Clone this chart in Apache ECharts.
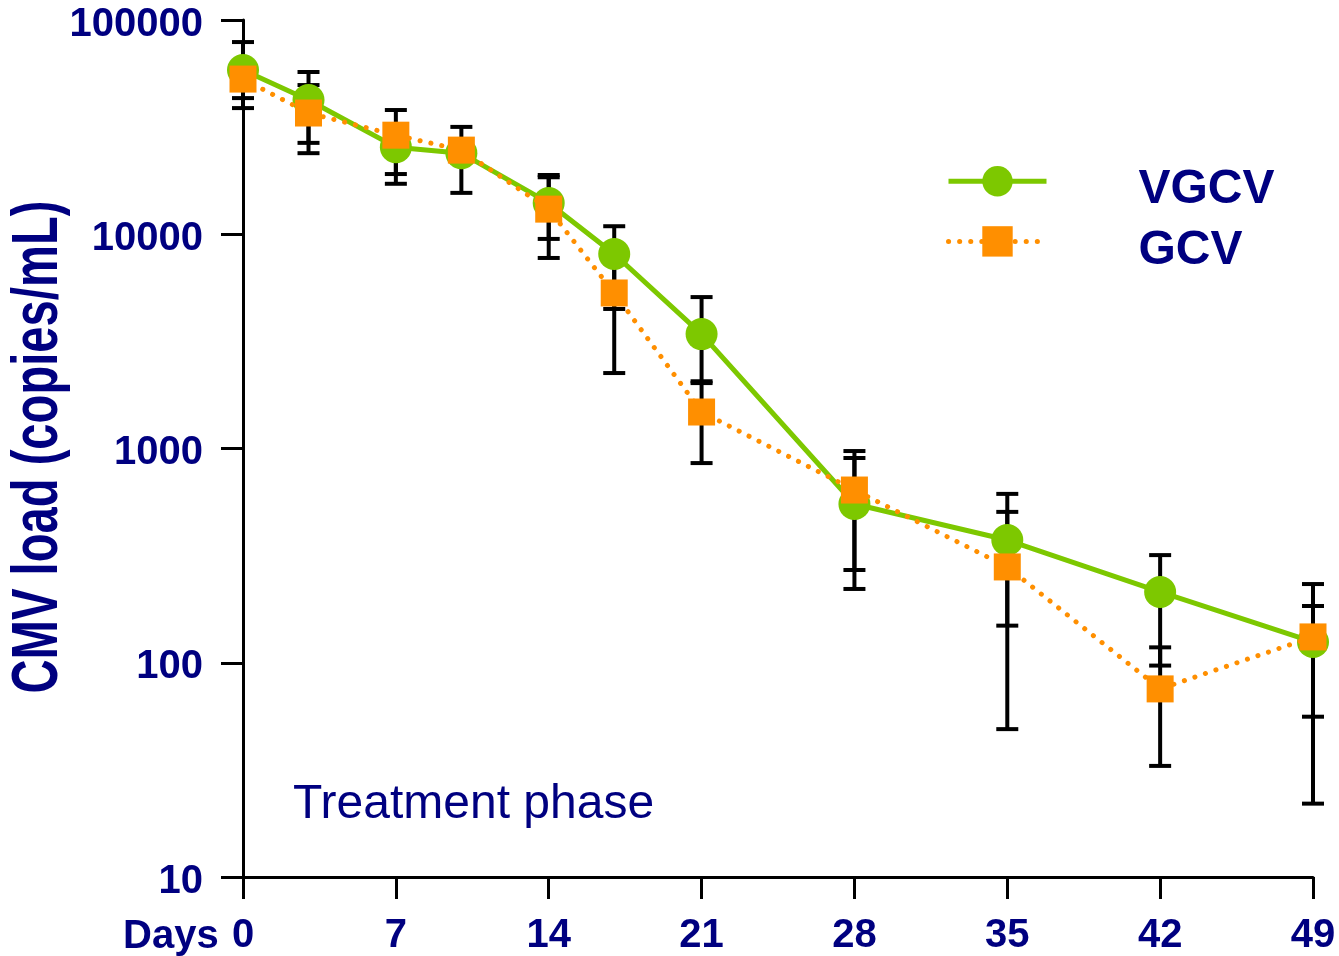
<!DOCTYPE html>
<html>
<head>
<meta charset="utf-8">
<script src="https://cdn.jsdelivr.net/npm/echarts@6/dist/echarts.min.js"></script>
<style>
  html, body { margin: 0; padding: 0; background: #fff; }
  #main { width: 1339px; height: 956px; }
</style>
</head>
<body>
<div id="main"></div>
<script>
// days of sampling and mean CMV load per arm
var days = [0, 3, 7, 10, 14, 17, 21, 28, 35, 42, 49];
var vgcv = [58400, 42300, 25500, 23900, 14000, 8090, 3420, 551, 374, 214, 125];
var gcv = [53000, 36800, 29000, 24700, 13100, 5320, 1480, 640, 280, 75.5, 132];

// error bar ends (low / high)
var vgcvLow = [38800, 26700, 17200, 15600, 9510, 4480, 2020, 221, 149, 97, 56];
var vgcvHigh = [78900, 57200, 32000, 31700, 18900, 10900, 5090, 903, 614, 318, 184];
var gcvLow = [43200, 23900, 19100, 22000, 7750, 2250, 855, 271, 49, 33, 22];
var gcvHigh = [62800, 49700, 38000, 27500, 18450, 8390, 2060, 973, 506, 118, 233];

var navy = "#000080";
var green = "#7DC800";
var orange = "#FF8F00";
var font = "Liberation Sans, Arial, sans-serif";

function pairs(xs, ys) {
  return xs.map(function (x, i) { return [x, ys[i]]; });
}
function bars(xs, lo, hi) {
  return xs.map(function (x, i) { return [x, lo[i], hi[i]]; });
}

function errorBar(params, api) {
  var x = api.value(0);
  var lo = api.coord([x, api.value(1)]);
  var hi = api.coord([x, api.value(2)]);
  var half = 11;
  var style = { stroke: "#000", lineWidth: 4 };
  return {
    type: "group",
    children: [
      { type: "line", shape: { x1: lo[0], y1: lo[1], x2: hi[0], y2: hi[1] }, style: style },
      { type: "line", shape: { x1: lo[0] - half, y1: lo[1], x2: lo[0] + half, y2: lo[1] }, style: style },
      { type: "line", shape: { x1: hi[0] - half, y1: hi[1], x2: hi[0] + half, y2: hi[1] }, style: style }
    ]
  };
}

var chart = echarts.init(document.getElementById("main"));

var option = {
  animation: false,
  backgroundColor: "#fff",
  grid: { left: 243, right: 26, top: 20, bottom: 79, containLabel: false, outerBoundsMode: "none" },
  legend: {
    orient: "vertical",
    left: 941,
    top: 161,
    itemWidth: 98,
    itemHeight: 38,
    itemGap: 12,
    data: ["VGCV", "GCV"],
    lineStyle: { width: 5 },
    formatter: "{a|{name}}",
    textStyle: {
      color: navy,
      fontFamily: font,
      fontWeight: "bold",
      fontSize: 48,
      rich: {
        a: {
          color: navy,
          fontFamily: font,
          fontWeight: "bold",
          fontSize: 48,
          padding: [18, 0, 0, 87]
        }
      }
    }
  },
  xAxis: {
    type: "value",
    min: 0,
    max: 49,
    interval: 7,
    axisLine: { lineStyle: { color: "#000", width: 3 } },
    axisTick: { show: true, length: 22, lineStyle: { color: "#000", width: 3 } },
    splitLine: { show: false },
    axisLabel: {
      margin: 39,
      color: navy,
      fontFamily: font,
      fontWeight: "bold",
      fontSize: 40,
      showMaxLabel: true
    }
  },
  yAxis: {
    type: "log",
    logBase: 10,
    min: 10,
    max: 100000,
    axisLine: { lineStyle: { color: "#000", width: 3 } },
    axisTick: { show: true, length: 22, lineStyle: { color: "#000", width: 3 } },
    minorTick: { show: false },
    splitLine: { show: false },
    axisLabel: {
      margin: 40,
      color: navy,
      fontFamily: font,
      fontWeight: "bold",
      fontSize: 40,
      verticalAlign: "top",
      lineHeight: 9,
      formatter: function (v) { return String(Math.round(v)); }
    }
  },
  graphic: [
    {
      type: "text",
      x: 39,
      y: 447,
      rotation: Math.PI / 2,
      scaleX: 0.726,
      style: {
        text: "CMV load (copies/mL)",
        fill: navy,
        font: "bold 65px " + font,
        align: "center",
        verticalAlign: "middle"
      }
    },
    {
      type: "text",
      left: 123,
      top: 917,
      style: { text: "Days", fill: navy, font: "bold 40px " + font }
    },
    {
      type: "text",
      left: 293,
      top: 781,
      style: { text: "Treatment phase", fill: navy, font: "48px " + font }
    }
  ],
  series: [
    {
      name: "VGCV bars",
      type: "custom",
      renderItem: errorBar,
      encode: { x: 0, y: [1, 2] },
      data: bars(days, vgcvLow, vgcvHigh),
      z: 1
    },
    {
      name: "GCV bars",
      type: "custom",
      renderItem: errorBar,
      encode: { x: 0, y: [1, 2] },
      data: bars(days, gcvLow, gcvHigh),
      z: 1
    },
    {
      name: "VGCV",
      type: "line",
      data: pairs(days, vgcv),
      symbol: "circle",
      symbolSize: 32,
      itemStyle: { color: green },
      lineStyle: { color: green, width: 5 },
      z: 3
    },
    {
      name: "GCV",
      type: "line",
      data: pairs(days, gcv),
      symbol: "rect",
      symbolSize: 27,
      itemStyle: { color: orange },
      lineStyle: { color: orange, width: 5, type: [0.1, 11], cap: "round" },
      z: 4
    }
  ]
};

chart.setOption(option);
</script>
</body>
</html>
